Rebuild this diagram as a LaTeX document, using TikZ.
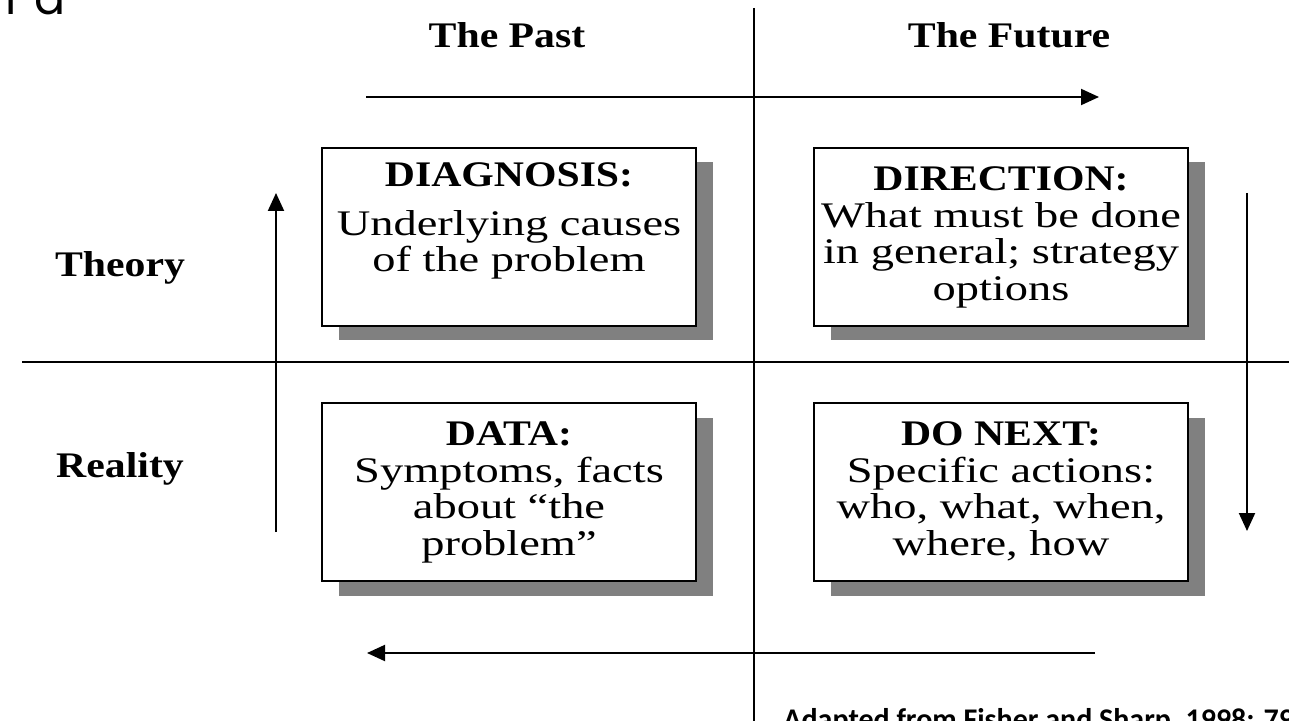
\documentclass[tikz,border=0pt]{standalone}
\usepackage{fontspec}
\setmainfont{Liberation Serif}
\newfontfamily\boxfont{Liberation Serif}[FakeStretch=1.29]
\newfontfamily\headfont{Liberation Serif}[FakeStretch=1.16]
\newfontfamily\notefont{Carlito}
\newfontfamily\titlefont{Poppins}
\usepackage{xcolor}
\definecolor{shadowgray}{RGB}{128, 128, 128}
\usetikzlibrary{arrows.meta,positioning,shadows}

\tikzset{
    quadbox/.style={rectangle, draw, line width=1pt, fill=white, minimum width=187pt, minimum height=89pt, inner sep=0pt, align=center, font=\boxfont\fontsize{18}{18.25}\selectfont, drop shadow={shadow xshift=8.25pt, shadow yshift=-7.25pt, fill=shadowgray, opacity=1}},
    axislabel/.style={anchor=base, inner sep=0pt, font=\headfont\bfseries\fontsize{18}{20}\selectfont},
    axisline/.style={line width=1pt},
    flow/.style={line width=1pt, -{Triangle[width=8pt,length=9pt]}}
}

\begin{document}
\begin{tikzpicture}[x=0.5pt, y=-0.5pt, node distance=37.5pt and 58pt]
    \useasboundingbox (0,0) rectangle (1289,721);
    \clip (0,0) rectangle (1289,721);

    % Axes
    \coordinate (nowTop) at (754,8);
    \coordinate (nowBottom) at (754,721);
    \coordinate (splitLeft) at (22,362);
    \coordinate (splitRight) at (1289,362);
    \draw[axisline] (nowTop) -- (nowBottom);
    \draw[axisline] (splitLeft) -- (splitRight);

    % Labels
    \node[anchor=base west, inner sep=0pt, font=\titlefont\fontsize{23}{26}\selectfont] (heading) at (5,15) {r a};
    \node[axislabel] (past) at (507,48) {The Past};
    \node[axislabel] (future) at (1009,48) {The Future};
    \node[axislabel] (theory) at (120,277) {Theory};
    \node[axislabel] (reality) at (120,477) {Reality};
    \node[anchor=base west, inner sep=0pt, font=\notefont\bfseries\fontsize{15}{18}\selectfont] (source) at (783,729) {Adapted from Fisher and Sharp, 1998: 79};

    % Quadrants
    \node[quadbox] (diagnosis) at (509,237) {{\headfont\bfseries DIAGNOSIS:}\\[6pt]Underlying causes\\of the problem\\[-4pt]\strut};
    \node[quadbox, right=of diagnosis] (direction) {{\headfont\bfseries DIRECTION:}\\What must be done\\in general; strategy\\options\\[-15pt]};
    \node[quadbox, below=of diagnosis] (data) {{\headfont\bfseries DATA:}\\Symptoms, facts\\about “the\\problem”\\[-15pt]};
    \node[quadbox, right=of data] (donext) {{\headfont\bfseries DO NEXT:}\\Specific actions:\\who, what, when,\\where, how\\[-15pt]};

    % Cycle
    \coordinate (pastEnd) at (366,97);
    \coordinate (futureEnd) at (1099,97);
    \coordinate (fallTop) at (1247,193);
    \coordinate (fallEnd) at (1247,531);
    \coordinate (backStart) at (1095,653);
    \coordinate (backEnd) at (367,653);
    \coordinate (riseStart) at (276,532);
    \coordinate (riseEnd) at (276,193);
    \draw[flow] (pastEnd) -- (futureEnd);
    \draw[flow] (fallTop) -- (fallEnd);
    \draw[flow] (backStart) -- (backEnd);
    \draw[flow] (riseStart) -- (riseEnd);
\end{tikzpicture}
\end{document}
